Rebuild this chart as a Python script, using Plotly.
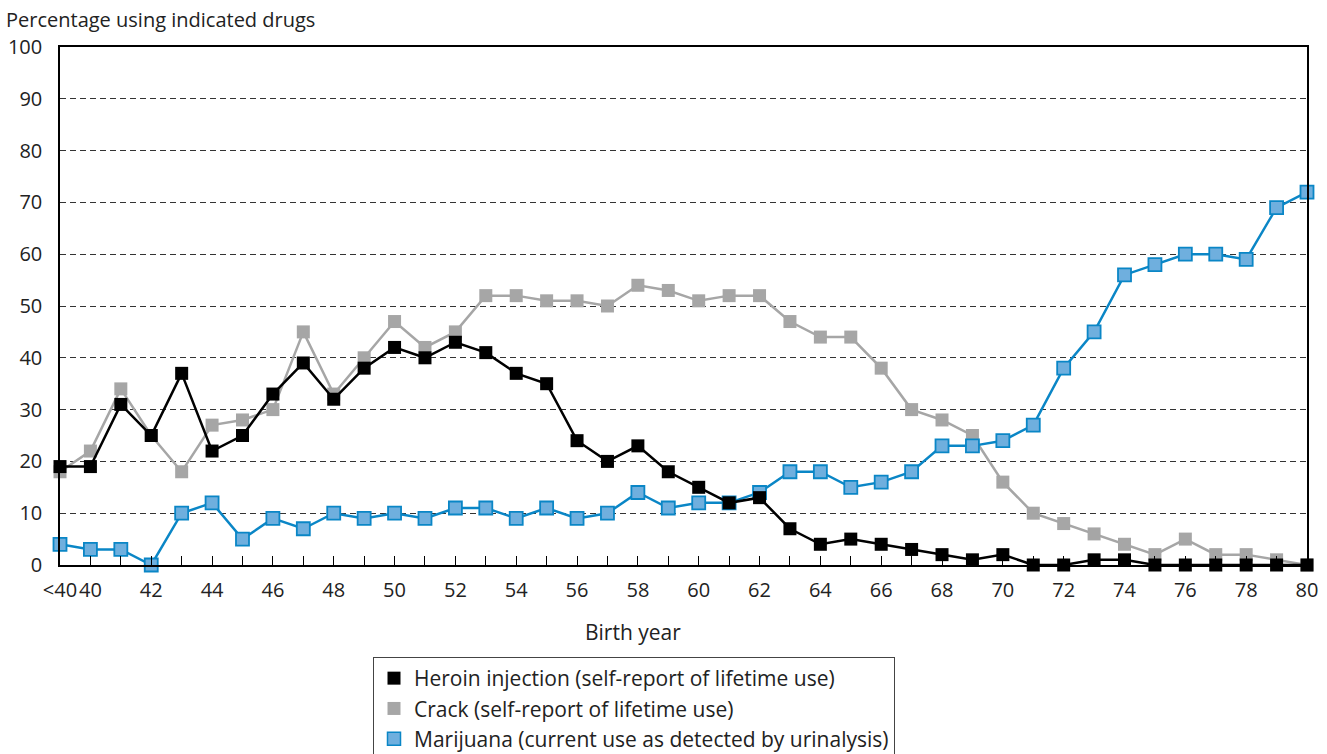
import plotly.graph_objects as go

years = list(range(39, 81))  # 39 stands for "<40"
heroin = [19, 19, 31, 25, 37, 22, 25, 33, 39, 32, 38, 42, 40, 43, 41, 37, 35, 24, 20, 23, 18, 15,
          12, 13, 7, 4, 5, 4, 3, 2, 1, 2, 0, 0, 1, 1, 0, 0, 0, 0, 0, 0]
crack = [18, 22, 34, 25, 18, 27, 28, 30, 45, 33, 40, 47, 42, 45, 52, 52, 51, 51, 50, 54, 53, 51,
         52, 52, 47, 44, 44, 38, 30, 28, 25, 16, 10, 8, 6, 4, 2, 5, 2, 2, 1, 0]
marijuana = [4, 3, 3, 0, 10, 12, 5, 9, 7, 10, 9, 10, 9, 11, 11, 9, 11, 9, 10, 14, 11, 12,
             12, 14, 18, 18, 15, 16, 18, 23, 23, 24, 27, 38, 45, 56, 58, 60, 60, 59, 69, 72]
tick_text = ["<40", "40"] + [str(y) if y % 2 == 0 else "" for y in range(41, 81)]
y_ticks = list(range(0, 101, 10))
names = ["Heroin injection (self-report of lifetime use)",
         "Crack (self-report of lifetime use)",
         "Marijuana (current use as detected by urinalysis)"]

FONT = "Open Sans"
FS = 21
TXT = "#222222"
BLACK, GREY, BLUE_L, BLUE_F = "#000000", "#a6a6a6", "#0a86c6", "#6fafde"

W, H = 1327, 790  # page is photographed at 1327x754; lower part of legend box falls outside
TOP, PLOT_BOTTOM = 47, 565
PH = PLOT_BOTTOM - TOP

fig = go.Figure()
# data traces (drawing order: crack, marijuana, heroin on top)
fig.add_trace(go.Scatter(
    x=years, y=crack, mode="lines+markers", showlegend=False, cliponaxis=False,
    line=dict(color=GREY, width=2.5),
    marker=dict(symbol="square", size=13, color=GREY, line=dict(width=0))))
fig.add_trace(go.Scatter(
    x=years, y=marijuana, mode="lines+markers", showlegend=False, cliponaxis=False,
    line=dict(color=BLUE_L, width=2.5),
    marker=dict(symbol="square", size=13, color=BLUE_F, line=dict(width=1.8, color=BLUE_L))))
fig.add_trace(go.Scatter(
    x=years, y=heroin, mode="lines+markers", showlegend=False, cliponaxis=False,
    line=dict(color=BLACK, width=2.5),
    marker=dict(symbol="square", size=13, color=BLACK, line=dict(width=0))))

# legend entries (marker only)
leg_styles = [dict(color=BLACK, line=dict(width=0)),
              dict(color=GREY, line=dict(width=0)),
              dict(color=BLUE_F, line=dict(width=1.5, color=BLUE_L))]
for nm, st in zip(names, leg_styles):
    fig.add_trace(go.Scatter(x=[None], y=[None], mode="markers", name=nm,
                             marker=dict(symbol="square", size=13, **st)))

fig.update_layout(
    width=W, height=H,
    margin=dict(l=60, r=20, t=TOP, b=H - PLOT_BOTTOM),
    plot_bgcolor="white", paper_bgcolor="white",
    font=dict(family=FONT, size=FS, color=TXT),
    xaxis=dict(range=[39, 80], tickmode="array", tickvals=years, ticktext=tick_text,
               ticks="inside", ticklen=9, tickcolor="#000", tickwidth=1, tickangle=0,
               showline=True, linecolor="#000", linewidth=1.5, mirror=True,
               showgrid=False, zeroline=False, tickfont=dict(size=20, color=TXT),
               automargin=False, ticklabelstandoff=6),
    yaxis=dict(range=[0, 100], tickmode="array", tickvals=y_ticks,
               showline=True, linecolor="#000", linewidth=1.5, mirror=True,
               showgrid=True, gridcolor="#333333", griddash="6px,4px", gridwidth=1,
               zeroline=False, ticks="", tickfont=dict(size=20, color=TXT),
               automargin=False, ticklabelstandoff=12),
    legend=dict(x=(373 - 60) / 1247, y=(PLOT_BOTTOM - 657) / PH, xanchor="left", yanchor="top",
                bordercolor="#444", borderwidth=1, bgcolor="white",
                font=dict(size=FS, color=TXT), tracegroupgap=0,
                itemwidth=30, traceorder="normal"),
    showlegend=True,
    annotations=[
        dict(text="Percentage using indicated drugs", xref="paper", yref="paper",
             x=-0.045, y=(PLOT_BOTTOM - 20) / PH, xanchor="left", yanchor="middle",
             showarrow=False, font=dict(size=20, color=TXT)),
        dict(text="Birth year", xref="paper", yref="paper",
             x=(633 - 60) / 1247, y=(PLOT_BOTTOM - 632) / PH, xanchor="center", yanchor="middle",
             showarrow=False, font=dict(size=FS, color=TXT)),
    ],
)
fig.write_html("out.html", config={"displayModeBar": False},
               post_script="document.body.style.margin='0';"
                           "document.body.style.overflow='hidden';"
                           "document.documentElement.style.overflow='hidden';")
